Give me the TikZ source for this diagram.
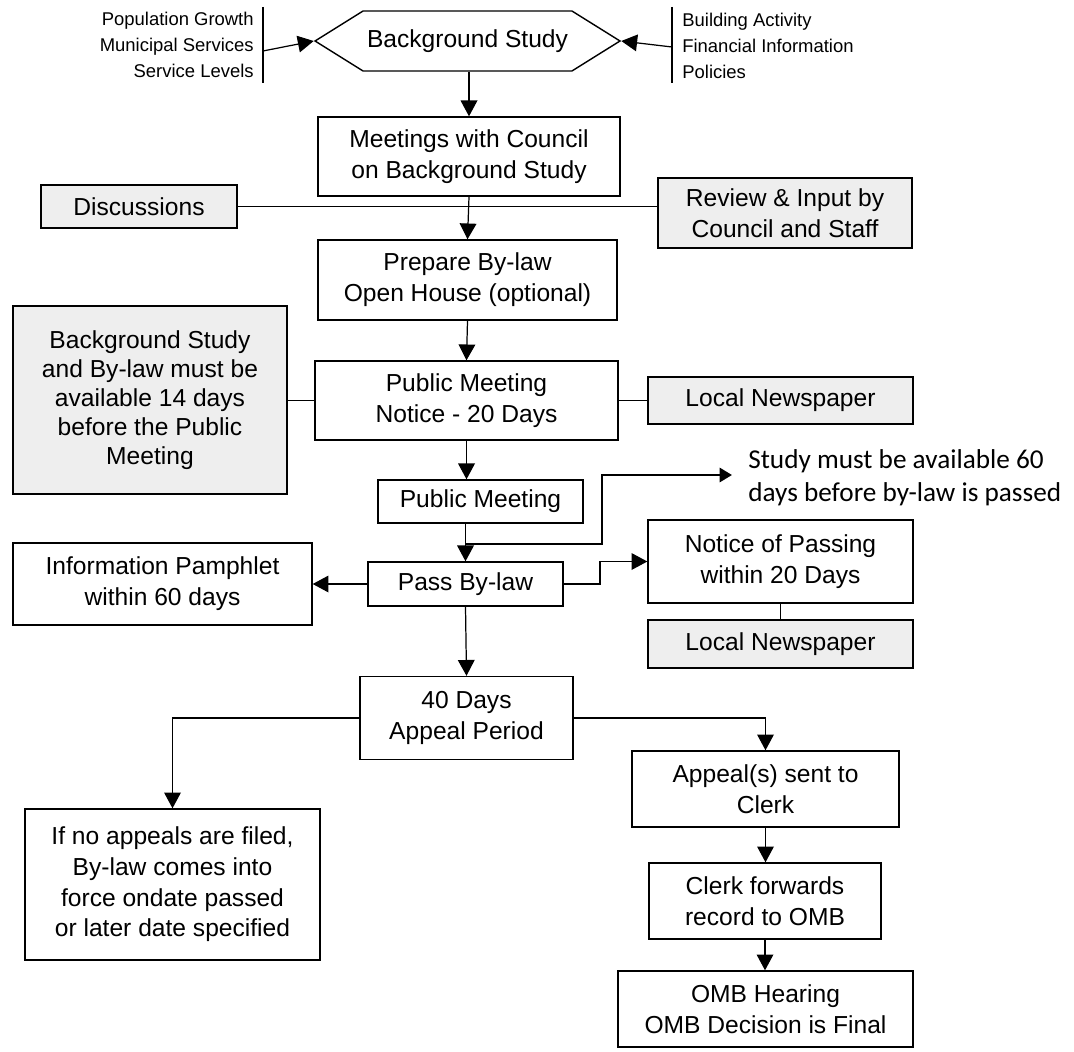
\documentclass[tikz,border=0pt]{standalone}
\usepackage{fontspec}
\setmainfont{Liberation Sans}
\newfontfamily\notefont{Carlito}
\usetikzlibrary{arrows.meta, positioning, shapes.symbols}

\definecolor{boxgray}{RGB}{238,238,238}

\begin{document}
\begin{tikzpicture}[
    x=0.02cm, y=-0.02cm,
    stepbox/.style={rectangle, draw=black, line width=0.8pt, fill=white, align=center, inner sep=0pt, font=\fontsize{14}{17.5}\selectfont},
    notebox/.style={stepbox, fill=boxgray},
    smalltext/.style={inner sep=0pt, font=\fontsize{10.5}{15}\selectfont},
    link/.style={-{Triangle[length=9pt, width=9.5pt]}, line width=0.7pt},
    plain/.style={line width=0.7pt}
]
    \useasboundingbox (0,0) rectangle (1074,1051);

    % top: background study and its inputs
    \node[stepbox, shape=signal, signal to=east and west, signal pointer angle=64, minimum width=6.1cm, minimum height=1.2cm] (bgstudy) at (467.5,41) {Background Study};
    \node[smalltext, anchor=east, align=right] (inleft) at (254,45) {Population Growth\\Municipal Services\\Service Levels};
    \node[smalltext, anchor=west, align=left] (inright) at (682,46) {Building Activity\\Financial Information\\Policies};
    \coordinate (lbartop) at (263,7);
    \coordinate (lbarbot) at (263,83);
    \coordinate (lbar) at (263,51);
    \coordinate (rbartop) at (672,7);
    \coordinate (rbarbot) at (672,83);
    \coordinate (rbar) at (672,47);
    \draw[plain] (lbartop) -- (lbarbot);
    \draw[plain] (rbartop) -- (rbarbot);
    \draw[link] (lbar) -- (bgstudy.west);
    \draw[link] (rbar) -- (bgstudy.east);

    % main column
    \node[stepbox, minimum width=6.04cm, minimum height=1.58cm] (meetings) at (469,156.5) {Meetings with Council\\on Background Study};
    \node[notebox, minimum width=3.92cm, minimum height=0.86cm] (discuss) at (139,206.5) {Discussions};
    \node[notebox, minimum width=5.08cm, minimum height=1.4cm] (review) at (785,213) {Review \& Input by\\Council and Staff};
    \node[stepbox, minimum width=5.98cm, minimum height=1.6cm] (prepare) at (467.5,280) {Prepare By-law\\Open House (optional)};
    \node[stepbox, minimum width=6.06cm, minimum height=1.58cm] (notice) at (466.5,400.5) {Public Meeting\\Notice - 20 Days};
    \node[notebox, minimum width=5.48cm, minimum height=3.76cm, font=\fontsize{14}{16.5}\selectfont] (avail) at (150,400) {Background Study\\and By-law must be\\available 14 days\\before the Public\\Meeting};
    \node[notebox, minimum width=5.3cm, minimum height=0.94cm] (paper) at (780.5,400.5) {Local Newspaper};
    \node[stepbox, minimum width=4.1cm, minimum height=0.86cm] (pubmeet) at (480.5,501.5) {Public Meeting};
    \node[anchor=west, inner sep=0pt, align=left, font=\notefont\fontsize{15.5}{19}\selectfont] (study) at (748,478) {Study must be available 60\\days before by-law is passed};
    \node[stepbox, minimum width=3.9cm, minimum height=0.88cm] (pass) at (465.5,584) {Pass By-law};
    \node[stepbox, minimum width=5.98cm, minimum height=1.64cm] (pamphlet) at (162.5,584) {Information Pamphlet\\within 60 days};
    \node[stepbox, minimum width=5.3cm, minimum height=1.66cm] (passing) at (780.5,561.5) {Notice of Passing\\within 20 Days};
    \node[notebox, minimum width=5.3cm, minimum height=0.96cm] (paper2) at (780.5,644) {Local Newspaper};
    \node[stepbox, minimum width=4.26cm, minimum height=1.66cm] (appeal) at (466.5,718) {40 Days\\Appeal Period};
    \node[stepbox, minimum width=5.9cm, minimum height=3.02cm] (noappeal) at (172.5,884.5) {If no appeals are filed,\\By-law comes into\\force ondate passed\\or later date specified};
    \node[stepbox, minimum width=5.34cm, minimum height=1.52cm] (sent) at (765.5,789) {Appeal(s) sent to\\Clerk};
    \node[stepbox, minimum width=4.64cm, minimum height=1.52cm] (clerk) at (765,901) {Clerk forwards\\record to OMB};
    \node[stepbox, minimum width=5.9cm, minimum height=1.52cm] (omb) at (765.5,1009) {OMB Hearing\\OMB Decision is Final};

    % connectors
    \draw[link] (bgstudy.south -| meetings.north) -- (meetings.north);
    \draw[plain] (discuss.east) -- (discuss.east -| review.west);
    \draw[link] (meetings.south) -- (prepare.north);
    \draw[link] (prepare.south) -- (notice.north);
    \draw[plain] (avail.east |- notice.west) -- (notice.west);
    \draw[plain] (notice.east) -- (paper.west);
    \draw[link] (notice.south) -- (notice.south |- pubmeet.north);
    \draw[link] (pubmeet.south -| pass.north) -- (pass.north);
    \coordinate (split) at (465.5,544);
    \coordinate (studytip) at (732,475);
    \draw[line width=1.5pt, -{Triangle[length=7pt, width=8pt]}] (split) -- (602,544) -- (602,475) -- (studytip);
    \draw[link] (pass.west) -- (pamphlet.east);
    \draw[link] (pass.east) -- (600,584) |- (passing.west);
    \draw[plain] (passing.south) -- (paper2.north);
    \draw[link] (pass.south) -- (appeal.north);
    \draw[link] (appeal.west) -| (noappeal.north);
    \draw[link] (appeal.east) -| (sent.north);
    \draw[link] (sent.south) -- (sent.south |- clerk.north);
    \draw[link] (clerk.south) -- (clerk.south |- omb.north);
\end{tikzpicture}
\end{document}
